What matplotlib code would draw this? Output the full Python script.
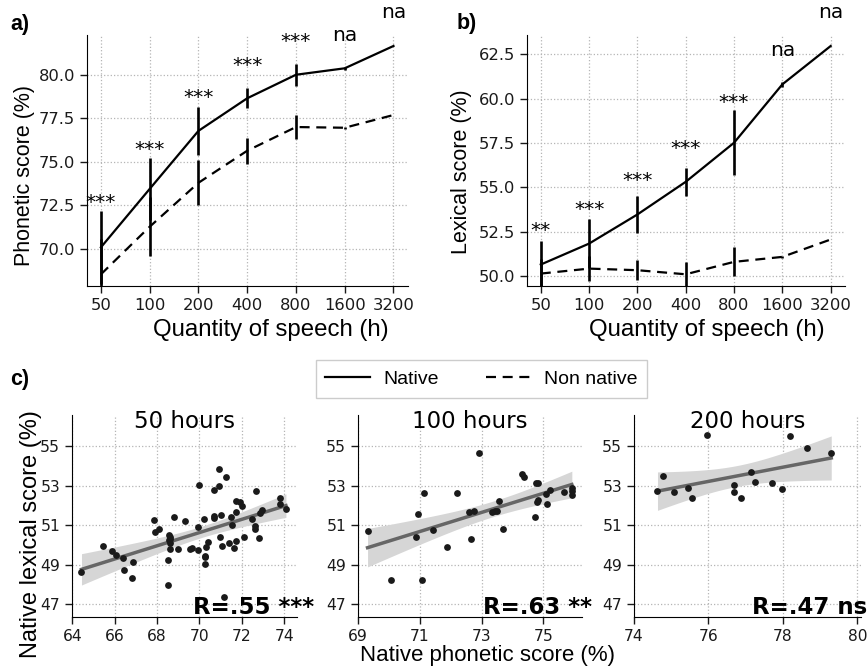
import numpy as np
import matplotlib.pyplot as plt
from matplotlib.lines import Line2D

###### DATOS ######

hours = [50, 100, 200, 400, 800, 1600, 3200]
hour_labels = ['50', '100', '200', '400', '800', '1600', '3200']

# a) phonetic score
phon_native = [70.1, 73.45, 76.78, 78.65, 80.0, 80.37, 81.65]
phon_native_err = [2.1, 1.8, 1.38, 0.58, 0.62, 0.1, 0.0]
phon_nonnative = [68.55, 71.28, 73.8, 75.64, 77.0, 76.96, 77.69]
phon_nonnative_err = [2.0, 1.7, 1.3, 0.75, 0.67, 0.05, 0.0]
phon_signif = ['***', '***', '***', '***', '***', 'na', 'na']

# b) lexical score
lex_native = [50.66, 51.84, 53.48, 55.32, 57.52, 60.81, 62.97]
lex_native_err = [1.33, 1.4, 1.06, 0.78, 1.83, 0.15, 0.0]
lex_nonnative = [50.15, 50.43, 50.34, 50.11, 50.81, 51.09, 52.07]
lex_nonnative_err = [0.8, 0.7, 0.57, 0.7, 0.82, 0.05, 0.0]
lex_signif = ['**', '***', '***', '***', '***', 'na', 'na']

# c) native phonetic vs lexical score
c50_x = [64.43, 65.45, 65.89, 66.05, 66.37, 66.43, 66.84, 66.81, 67.86, 67.91, 68.09,
         68.50, 68.50, 68.57, 68.59, 68.60, 68.57, 68.59, 68.59, 68.81, 69.00, 69.30,
         69.54, 69.66, 69.93, 70.00, 69.95, 70.21, 70.26, 70.26, 70.27, 70.29, 70.39,
         70.69, 70.69, 70.70, 70.91, 70.91, 70.97, 71.02, 71.07, 71.27, 71.14, 71.37,
         71.48, 71.52, 71.63, 71.70, 71.70, 71.74, 71.90, 72.01, 72.11, 72.47, 72.60,
         72.63, 72.69, 72.80, 72.85, 72.96, 73.80, 73.80, 74.08]
c50_y = [48.62, 49.96, 49.69, 49.52, 49.33, 48.73, 49.16, 48.31, 51.25, 50.65, 50.79,
         48.00, 49.23, 50.53, 50.42, 50.31, 50.23, 50.08, 49.82, 51.40, 49.79, 51.21,
         49.80, 49.84, 50.91, 53.01, 49.77, 51.30, 49.45, 49.40, 49.06, 49.91, 50.14,
         52.76, 51.45, 51.38, 53.86, 52.96, 50.38, 51.54, 49.97, 53.44, 47.36, 50.08,
         51.43, 51.01, 49.87, 50.18, 51.67, 52.23, 52.15, 51.96, 50.42, 51.33, 50.82,
         50.98, 52.71, 50.36, 51.64, 51.77, 52.40, 52.08, 51.81]

c100_x = [69.31, 70.07, 71.06, 70.95, 71.13, 70.88, 71.44, 71.88, 72.20, 72.60, 72.66,
          72.77, 72.91, 73.35, 73.44, 73.49, 73.55, 73.68, 74.32, 74.37, 74.73, 74.75,
          74.82, 74.78, 74.84, 75.09, 75.13, 75.23, 75.67, 75.92, 75.92, 75.92]
c100_y = [50.69, 48.21, 48.21, 51.57, 52.62, 50.43, 50.74, 49.89, 52.62, 51.67, 50.30,
          51.74, 54.66, 51.67, 51.74, 51.74, 52.20, 50.81, 53.59, 53.46, 51.42, 53.13,
          53.13, 52.18, 52.28, 52.59, 52.08, 52.78, 52.67, 52.88, 52.71, 52.54]

c200_x = [74.63, 74.79, 75.08, 75.45, 75.57, 75.97, 76.68, 76.69, 76.88, 77.14, 77.25,
          77.72, 77.98, 78.20, 78.66, 79.30]
c200_y = [52.73, 53.49, 52.69, 52.88, 52.36, 55.58, 53.02, 52.68, 52.39, 53.68, 53.20,
          53.12, 52.85, 55.51, 54.92, 54.64]

c_titles = ['50 hours', '100 hours', '200 hours']
c_rtext = ['R=.55 ***', 'R=.63 **', 'R=.47 ns']
c_yticks = [47, 49, 51, 53, 55]

ARIAL = 'Liberation Sans'
DASH = (0, (4.5, 3))

###### FUNCIONES ######

def style(ax, labelsize):
    ax.spines['top'].set_visible(False)
    ax.spines['right'].set_visible(False)
    ax.grid(True, ls=':', color='#b5b5b5', lw=0.9)
    ax.set_axisbelow(True)
    ax.tick_params(length=5, width=1, labelsize=labelsize, colors='#1a1a1a')


def curve_panel(ax, nat, nat_err, non, non_err, signif, ylim, yticks, ylabel):
    ax.set_xscale('log', base=2)
    ax.errorbar(hours, nat, yerr=nat_err, color='k', ls='-', lw=1.6, elinewidth=1.9)
    ax.errorbar(hours, non, yerr=non_err, color='k', ls=DASH, lw=1.6, elinewidth=1.9)
    for h, m, e, s in zip(hours, nat, nat_err, signif):
        y = max(m + 1.9, m + e + 0.45)
        ax.text(h, y, s, ha='center', va='center', fontsize=14.5, clip_on=False)
    ax.set_xticks(hours)
    ax.set_xticklabels(hour_labels)
    ax.minorticks_off()
    ax.set_xlim(41, 3930)
    ax.set_ylim(*ylim)
    ax.set_yticks(yticks)
    ax.set_yticklabels(['%.1f' % v for v in yticks])
    style(ax, 11.8)
    ax.set_xlabel('Quantity of speech (h)', family=ARIAL, fontsize=17.3)
    ax.set_ylabel(ylabel, family=ARIAL, fontsize=15.5)


def scatter_panel(ax, x, y, xlim, xticks, title, rtext, rx):
    x = np.array(x)
    y = np.array(y)
    b, a = np.polyfit(x, y, 1)
    xs = np.linspace(x.min(), x.max(), 100)
    fit = a + b * xs
    n = len(x)
    s = np.sqrt(np.sum((y - (a + b * x)) ** 2) / (n - 2))
    se = s * np.sqrt(1 / n + (xs - x.mean()) ** 2 / np.sum((x - x.mean()) ** 2))
    t = 2.0 if n > 30 else 2.14
    ax.fill_between(xs, fit - t * se, fit + t * se, color='#d6d6d6', lw=0, zorder=1)
    ax.plot(xs, fit, color='#666666', lw=2.5, zorder=2)
    ax.scatter(x, y, s=24, color='#1a1a1a', zorder=3, linewidths=0)
    ax.set_xlim(*xlim)
    ax.set_xticks(xticks)
    ax.set_ylim(46.36, 56.57)
    ax.set_yticks(c_yticks)
    style(ax, 11.2)
    ax.text(0.5, 0.936, title, transform=ax.transAxes, ha='center', va='baseline',
            fontsize=16.5)
    ax.text(rx, 0.015, rtext, transform=ax.transAxes, ha='left', va='baseline',
            fontsize=16.5, fontweight='bold', zorder=5)

###### FIGURA ######

fig = plt.figure(figsize=(8.67, 6.72), dpi=100)

ax_a = fig.add_axes([0.1003, 0.5744, 0.3702, 0.3735])
curve_panel(ax_a, phon_native, phon_native_err, phon_nonnative, phon_nonnative_err,
            phon_signif, (67.88, 82.28), [70, 72.5, 75, 77.5, 80], 'Phonetic score (%)')
ax_a.xaxis.set_label_coords(0.573, -0.13)
ax_a.yaxis.set_label_coords(-0.162, 0.442)

ax_b = fig.add_axes([0.6078, 0.5744, 0.3668, 0.3735])
curve_panel(ax_b, lex_native, lex_native_err, lex_nonnative, lex_nonnative_err,
            lex_signif, (49.45, 63.59), [50, 52.5, 55, 57.5, 60, 62.5], 'Lexical score (%)')
ax_b.xaxis.set_label_coords(0.566, -0.13)
ax_b.yaxis.set_label_coords(-0.172, 0.454)

ax_c1 = fig.add_axes([0.0830, 0.0818, 0.2595, 0.3006])
scatter_panel(ax_c1, c50_x, c50_y, (63.98, 74.6), [64, 66, 68, 70, 72, 74],
              c_titles[0], c_rtext[0], 0.536)
ax_c1.set_ylabel('Native lexical score (%)', family=ARIAL, fontsize=17)
ax_c1.yaxis.set_label_coords(-0.135, 0.41)

ax_c2 = fig.add_axes([0.4129, 0.0818, 0.2584, 0.3006])
scatter_panel(ax_c2, c100_x, c100_y, (69.0, 76.25), [69, 71, 73, 75],
              c_titles[1], c_rtext[1], 0.557)

ax_c3 = fig.add_axes([0.7313, 0.0818, 0.2618, 0.3006])
scatter_panel(ax_c3, c200_x, c200_y, (74.0, 80.1), [74, 76, 78, 80],
              c_titles[2], c_rtext[2], 0.521)

fig.text(487 / 867, 1 - 655 / 672, 'Native phonetic score (%)', ha='center', va='center',
         family=ARIAL, fontsize=16)

for lab, px, py in [('a)', 19.7, 24.7), ('b)', 467, 24), ('c)', 20, 379)]:
    fig.text(px / 867, 1 - py / 672, lab, ha='center', va='center', family=ARIAL,
             fontsize=15.5, fontweight='bold')

handles = [Line2D([], [], color='k', lw=1.6), Line2D([], [], color='k', lw=1.6, ls=DASH)]
fig.legend(handles, ['Native', 'Non native'], loc='center',
           bbox_to_anchor=(481.5 / 867, 1 - 379 / 672), ncol=2,
           prop={'family': ARIAL, 'size': 14}, handlelength=2.3, columnspacing=2.4,
           handletextpad=0.7, borderpad=0.5,
           fancybox=False, edgecolor='#cccccc', framealpha=1)

fig.savefig('out.png', dpi=100)
